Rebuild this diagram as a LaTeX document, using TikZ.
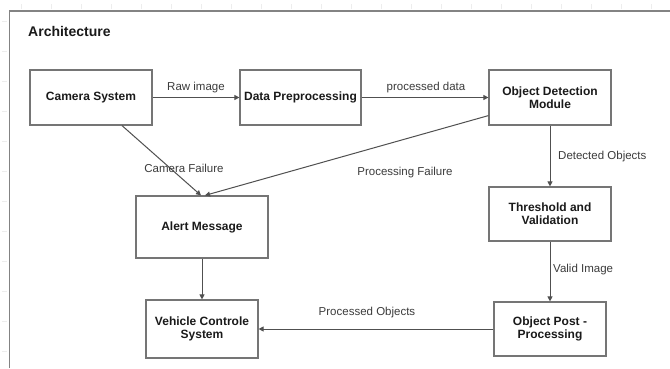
\documentclass[tikz,border=0pt]{standalone}
\usepackage{fontspec}
\setmainfont{Liberation Sans}
\usetikzlibrary{arrows.meta}
\definecolor{boxline}{HTML}{757575}
\definecolor{wire}{HTML}{505050}
\definecolor{ink}{HTML}{1A1A1A}
\definecolor{tick}{HTML}{EDEDED}
\tikzset{
  block/.style={draw=boxline, line width=1.2pt, fill=white, text=ink,
    font=\bfseries\fontsize{12}{13}\selectfont, align=center,
    inner sep=0pt},
  flow/.style={draw=wire, line width=1pt,
    -{Triangle[length=5pt,width=5pt]}},
  lbl/.style={text=ink!85, font=\fontsize{11.5}{13}\selectfont, inner sep=0pt},
}
\begin{document}
\begin{tikzpicture}[x=1pt,y=1pt]
\useasboundingbox[fill=white] (0,0) rectangle (670,368);

% faint grid ticks outside the frame
\foreach \gx in {21,51,...,661} \draw[tick, line width=0.7pt] (\gx,359) -- (\gx,364);
\foreach \gy in {17,47,...,347} \draw[tick, line width=0.7pt] (2,\gy) -- (7,\gy);

% outer frame
\draw[boxline!90, line width=1.2pt] (9.5,0) -- (9.5,357) -- (670,357);

% title
\node[anchor=west, text=ink, font=\bfseries\fontsize{14}{16}\selectfont, inner sep=0pt]
  (title) at (28,337) {Architecture};

% blocks
\node[block, minimum width=122pt, minimum height=55pt] (cam)   at (91,270.5)  {Camera System};
\node[block, minimum width=121pt, minimum height=55pt] (dp)    at (300.5,270.5) {Data Preprocessing};
\node[block, minimum width=122pt, minimum height=55pt] (odm)   at (550,270.5) {Object Detection\\Module};
\node[block, minimum width=122pt, minimum height=54pt] (thr)   at (550,154)   {Threshold and\\Validation};
\node[block, minimum width=112pt, minimum height=54pt] (opp)   at (550,39)    {Object Post -\\Processing};
\node[block, minimum width=132pt, minimum height=62pt] (alert) at (202,141)   {Alert Message};
\node[block, minimum width=112pt, minimum height=58pt] (vcs)   at (202,39)    {Vehicle Controle\\System};

% connectors
\draw[flow] (cam.east) -- (dp.west);
\draw[flow] (dp.east) -- (odm.west);
\draw[flow] (odm.south) -- (thr.north);
\draw[flow] (thr.south) -- (opp.north);
\draw[flow] (opp.west) -- (vcs.east);
\draw[flow] (alert.south) -- (vcs.north);
\coordinate (camout) at ([xshift=31pt]cam.south);
\coordinate (odmout) at ([yshift=10pt]odm.south west);
\draw[flow] (camout) -- ([xshift=-1pt]alert.north);
\draw[flow] (odmout) -- ([xshift=3pt]alert.north);

% connector labels
\node[lbl] (l1) at (196,280) {Raw image};
\node[lbl] (l2) at (426,280) {processed data};
\node[lbl, anchor=west] (l3) at (558,211) {Detected Objects};
\node[lbl, anchor=west] (l4) at (553,98) {Valid Image};
\node[lbl] (l5) at (367,55) {Processed Objects};
\node[lbl] (l6) at (184,200) {Camera Failure};
\node[lbl] (l7) at (405,195) {Processing Failure};
\end{tikzpicture}
\end{document}
